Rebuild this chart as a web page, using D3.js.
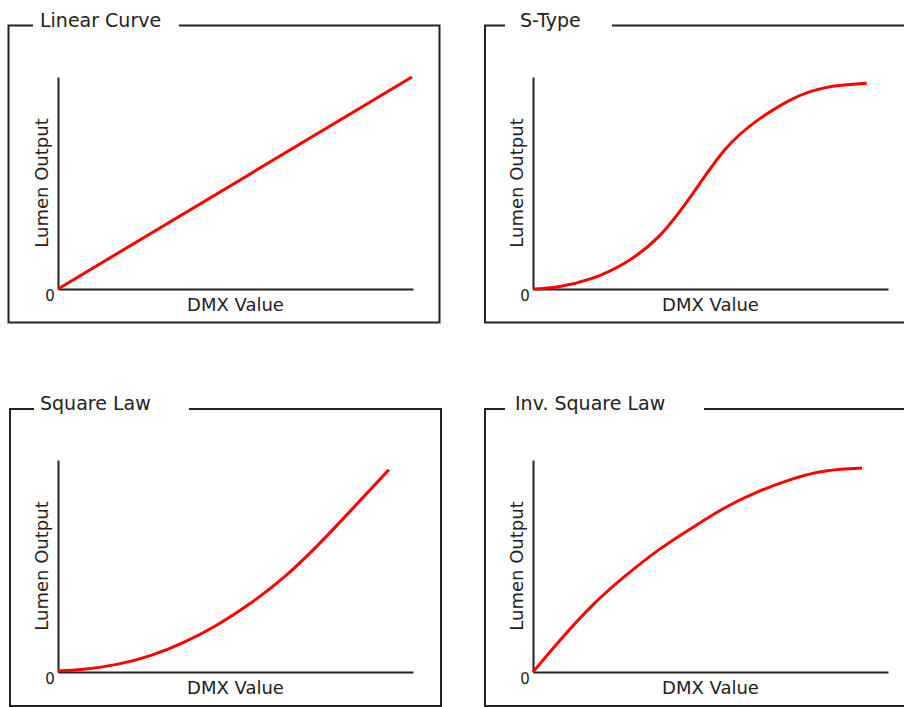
<!DOCTYPE html>
<html>
<head>
<meta charset="utf-8">
<script src="https://cdn.jsdelivr.net/npm/d3@7"></script>
<style>
  body { margin: 0; background: #fff; }
  text { font-family: 'DejaVu Sans', sans-serif; fill: #222; }
</style>
</head>
<body>
<div id="d3-container"></div>
<script>
// dimming curves, values read as % of DMX range / % of lumen output
const titles = ['Linear Curve', 'S-Type', 'Square Law', 'Inv. Square Law'];

const linearX = [0, 99.7];
const linearY = [0, 100];

const sTypeX = [0, 7.2, 16.6, 26, 35.4, 44.8, 54.2, 63.6, 73, 82.4, 94];
const sTypeY = [0, 1.1, 5, 12.4, 24.7, 44.5, 66, 80, 89.6, 95, 97];

const squareX = [0, 7.2, 16.6, 26, 35.4, 44.8, 54.2, 63.6, 73, 82.4, 93.2];
const squareY = [0.5, 1.3, 3.6, 7.7, 14, 22.2, 32.4, 44.6, 59.5, 76, 95.4];

const invSquareX = [0, 7.2, 16.6, 26, 35.4, 44.8, 54.2, 63.6, 73, 82.4, 92.7];
const invSquareY = [0, 14.2, 31.2, 45.3, 57.6, 68, 77.6, 85.2, 91, 94.8, 96.2];

const xLabel = 'DMX Value';
const yLabel = 'Lumen Output';
const zeroLabel = '0';

let width = 904, height = 707;

let svg = d3.select('#d3-container')
  .append('svg')
  .attr('width', width)
  .attr('height', height);

// panel layout: box + title gap + plot origin
var panels = [
  { title: titles[0], xs: linearX, ys: linearY, box: [8.5, 25.5, 439.5, 322.5], gap: [33, 179], tx: 40, ox: 58, oy: 289 },
  { title: titles[1], xs: sTypeX, ys: sTypeY, box: [485, 25.5, 920, 322.5], gap: [505, 612], tx: 520, ox: 533, oy: 289 },
  { title: titles[2], xs: squareX, ys: squareY, box: [10, 409, 441, 706], gap: [34, 189], tx: 40, ox: 58, oy: 672 },
  { title: titles[3], xs: invSquareX, ys: invSquareY, box: [485, 409, 920, 706], gap: [505, 704], tx: 515, ox: 533, oy: 672 },
];

var plotW = 355, plotH = 212;

panels.forEach(function (p) {
  var b = p.box;
  var g = svg.append('g');

  // frame, top edge broken for the title
  g.append('path')
    .attr('d', 'M' + p.gap[0] + ',' + b[1] + 'H' + b[0] + 'V' + b[3] + 'H' + b[2] + 'V' + b[1] + 'H' + p.gap[1])
    .attr('fill', 'none')
    .attr('stroke', '#222')
    .attr('stroke-width', 2);

  g.append('text')
    .attr('x', p.tx)
    .attr('y', b[1] + 1)
    .attr('font-size', 19)
    .text(p.title);

  var x = d3.scaleLinear().domain([0, 100]).range([p.ox, p.ox + plotW]);
  var y = d3.scaleLinear().domain([0, 100]).range([p.oy, p.oy - plotH]);

  g.append('g')
    .attr('transform', 'translate(0,' + p.oy + ')')
    .call(d3.axisBottom(x).tickValues([]).tickSizeOuter(0))
    .call(function (a) { a.select('.domain').attr('stroke', '#222').attr('stroke-width', 2); });

  g.append('g')
    .attr('transform', 'translate(' + p.ox + ',0)')
    .call(d3.axisLeft(y).tickValues([]).tickSizeOuter(0))
    .call(function (a) { a.select('.domain').attr('stroke', '#222').attr('stroke-width', 2); });

  g.append('text')
    .attr('x', x(0) - 8)
    .attr('y', y(0) + 12)
    .attr('text-anchor', 'middle')
    .attr('font-size', 15)
    .text(zeroLabel);

  g.append('text')
    .attr('x', x(50))
    .attr('y', y(0) + 22)
    .attr('text-anchor', 'middle')
    .attr('font-size', 18)
    .text(xLabel);

  g.append('text')
    .attr('transform', 'translate(' + (p.ox - 10) + ',' + y(50) + ') rotate(-90)')
    .attr('text-anchor', 'middle')
    .attr('font-size', 18)
    .text(yLabel);

  var pts = p.xs.map(function (d, i) { return [d, p.ys[i]]; });
  var line = d3.line()
    .x(function (d) { return x(d[0]); })
    .y(function (d) { return y(d[1]); })
    .curve(d3.curveNatural);

  g.append('path')
    .datum(pts)
    .attr('d', line)
    .attr('fill', 'none')
    .attr('stroke', '#ff0000')
    .attr('stroke-width', 3);
});
</script>
</body>
</html>
